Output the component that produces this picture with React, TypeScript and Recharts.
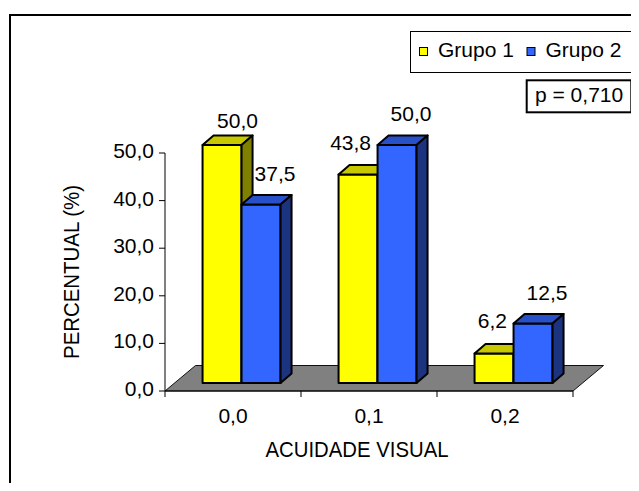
import React from 'react';
import { BarChart, Bar, XAxis, YAxis, ReferenceArea, Legend, LabelList } from 'recharts';

const categories = ['0,0', '0,1', '0,2'];
const grupo1 = [50.0, 43.8, 6.2];
const grupo2 = [37.5, 50.0, 12.5];
const yTicks = [0, 10, 20, 30, 40, 50];
const seriesNames = ['Grupo 1', 'Grupo 2'];
const pLabel = 'p = 0,710';
const yTitle = 'PERCENTUAL (%)';
const xTitle = 'ACUIDADE VISUAL';

const data = categories.map((cat, i) => ({ cat, g1: grupo1[i], g2: grupo2[i] }));

const FONT = '"Liberation Sans", Arial, sans-serif';
const W = 639;
const H = 491;
const PLOT_LEFT = 165;
const PLOT_RIGHT = 573;
const PLOT_TOP = 153;
const X_AXIS_H = 100;

// 3D look: bars sit a bit into the floor, and get a top/side face
const SHIFT_X = 9;
const SHIFT_Y = -8;
const DEPTH_X = 11;
const DEPTH_Y = -9.5;
const FLOOR_X = 30.5;
const FLOOR_Y = -25.5;

const YELLOW = { front: '#FFFF00', top: '#C8C800', side: '#808000' };
const BLUE = { front: '#3366FF', top: '#2850C8', side: '#1C3380' };

const fmt = (v: number) => v.toFixed(1).replace('.', ',');

function Bar3D(props: any) {
  const { x, y, width, height, colors } = props;
  if (width == null || height == null) return null;
  const x0 = x + SHIFT_X;
  const y0 = y + SHIFT_Y;
  const x1 = x0 + width;
  const y1 = y0 + height;
  return (
    <g stroke="#000" strokeWidth={2} strokeLinejoin="round">
      <rect x={x0} y={y0} width={width} height={height} fill={colors.front} />
      <polygon
        points={`${x0},${y0} ${x0 + DEPTH_X},${y0 + DEPTH_Y} ${x1 + DEPTH_X},${y0 + DEPTH_Y} ${x1},${y0}`}
        fill={colors.top}
      />
      <polygon
        points={`${x1},${y0} ${x1 + DEPTH_X},${y0 + DEPTH_Y} ${x1 + DEPTH_X},${y1 + DEPTH_Y} ${x1},${y1}`}
        fill={colors.side}
      />
    </g>
  );
}

function Floor(props: any) {
  const { x, y, width, height } = props;
  const b = y + height;
  const pts = `${x},${b} ${x + width},${b} ${x + width + FLOOR_X},${b + FLOOR_Y} ${x + FLOOR_X},${b + FLOOR_Y}`;
  return <polygon points={pts} fill="#808080" stroke="#111" strokeWidth={1} />;
}

function labelBox(props: any) {
  const vb = props.viewBox || {};
  return {
    x: props.x ?? vb.x,
    y: props.y ?? vb.y,
    width: props.width ?? vb.width,
    index: props.index,
  };
}

function LabelG1(props: any) {
  const { x, y, width, index } = labelBox(props);
  if (x == null || index == null) return null;
  const x0 = x + SHIFT_X;
  const y0 = y + SHIFT_Y;
  const hidden = grupo2[index] > grupo1[index];
  return (
    <text
      x={hidden ? x0 + width - 6.5 : x0 + width - 4}
      y={hidden ? y0 - 25 : y0 - 17}
      textAnchor={hidden ? 'end' : 'middle'}
      fontFamily={FONT}
      fontSize={21}
      fill="#000"
    >
      {fmt(grupo1[index])}
    </text>
  );
}

function LabelG2(props: any) {
  const { x, y, width, index } = labelBox(props);
  if (x == null || index == null) return null;
  const x0 = x + SHIFT_X;
  const y0 = y + SHIFT_Y;
  return (
    <text x={x0 + width / 2 + 14} y={y0 - 24} textAnchor="middle" fontFamily={FONT} fontSize={21} fill="#000">
      {fmt(grupo2[index])}
    </text>
  );
}

const BAND = (PLOT_RIGHT - PLOT_LEFT) / categories.length;

function XTick(props: any) {
  const { x, y, payload, index } = props;
  const left = x - BAND / 2;
  return (
    <g>
      <line x1={left} y1={y} x2={left} y2={y + 6} stroke="#000" />
      {index === categories.length - 1 && (
        <line x1={x + BAND / 2} y1={y} x2={x + BAND / 2} y2={y + 6} stroke="#000" />
      )}
      <text x={x} y={y + 32} textAnchor="middle" fontFamily={FONT} fontSize={21} fill="#000">
        {payload.value}
      </text>
    </g>
  );
}

function YTick(props: any) {
  const { x, y, payload } = props;
  return (
    <text x={x} y={y + 5} textAnchor="end" fontFamily={FONT} fontSize={21} fill="#000">
      {fmt(payload.value)}
    </text>
  );
}

function LegendBox() {
  const colors = [YELLOW.front, BLUE.front];
  const itemX = [0, 107.5];
  return (
    <svg width={224} height={84} style={{ display: 'block' }}>
      <rect x={0.5} y={0.5} width={222} height={41} fill="#fff" stroke="#000" strokeWidth={1} />
      {seriesNames.map((name, i) => (
        <g key={name}>
          <rect x={9.5 + itemX[i]} y={16.5} width={8} height={8} fill={colors[i]} stroke="#000" strokeWidth={1} />
          <text x={28 + itemX[i]} y={26.3} fontFamily={FONT} fontSize={21} fill="#000">
            {name}
          </text>
        </g>
      ))}
      <rect x={116.7} y={49.3} width={104.6} height={32} fill="#fff" stroke="#000" strokeWidth={2} />
      <text x={125} y={70.7} fontFamily={FONT} fontSize={21} fill="#000">
        {pLabel}
      </text>
    </svg>
  );
}

export default function App() {
  return (
    <div
      style={{
        position: 'relative',
        width: W,
        height: H,
        margin: -8,
        overflow: 'hidden',
        background: '#fff',
      }}
    >
      <div
        style={{
          position: 'absolute',
          left: 9,
          top: 14,
          width: 700,
          height: 600,
          border: '2px solid #000',
        }}
      />
      <div style={{ position: 'absolute', left: 0, top: 0 }}>
        <BarChart
          width={W}
          height={H}
          data={data}
          margin={{ top: PLOT_TOP, right: W - PLOT_RIGHT, bottom: 0, left: 0 }}
          barCategoryGap="21%"
          barGap={0}
        >
          <ReferenceArea y1={0} y2={50} shape={<Floor />} ifOverflow="visible" />
          <XAxis
            dataKey="cat"
            height={X_AXIS_H}
            tickLine={false}
            tickSize={0}
            tickMargin={0}
            axisLine={{ stroke: '#000', strokeWidth: 1 }}
            tick={<XTick />}
            interval={0}
            label={{
              content: (p: any) => {
                const vb = p.viewBox || { x: PLOT_LEFT, width: PLOT_RIGHT - PLOT_LEFT };
                return (
                  <text
                    x={vb.x + vb.width / 2 - 12}
                    y={456.7}
                    textAnchor="middle"
                    fontFamily={FONT}
                    fontSize={22}
                    textLength={183}
                    lengthAdjust="spacingAndGlyphs"
                    fill="#000"
                  >
                    {xTitle}
                  </text>
                );
              },
            }}
          />
          <YAxis
            width={PLOT_LEFT}
            domain={[0, 50]}
            ticks={yTicks}
            tickSize={6}
            tickMargin={5}
            tickLine={{ stroke: '#000' }}
            axisLine={{ stroke: '#000', strokeWidth: 1 }}
            tick={<YTick />}
            label={{
              content: (p: any) => {
                const vb = p.viewBox || { y: PLOT_TOP, height: 238 };
                const cx = 79.3;
                const cy = vb.y + vb.height / 2;
                return (
                  <text
                    x={cx}
                    y={cy}
                    transform={`rotate(-90 ${cx} ${cy})`}
                    textAnchor="middle"
                    fontFamily={FONT}
                    fontSize={22}
                    textLength={174}
                    lengthAdjust="spacingAndGlyphs"
                    fill="#000"
                  >
                    {yTitle}
                  </text>
                );
              },
            }}
          />
          <Legend
            layout="horizontal"
            verticalAlign="middle"
            align="center"
            wrapperStyle={{ left: 410, top: 31, width: 224, height: 84 }}
            content={() => <LegendBox />}
          />
          <Bar dataKey="g1" name={seriesNames[0]} fill={YELLOW.front} isAnimationActive={false} shape={(p: any) => <Bar3D {...p} colors={YELLOW} />}>
            <LabelList dataKey="g1" content={(p: any) => <LabelG1 {...p} />} />
          </Bar>
          <Bar dataKey="g2" name={seriesNames[1]} fill={BLUE.front} isAnimationActive={false} shape={(p: any) => <Bar3D {...p} colors={BLUE} />}>
            <LabelList dataKey="g2" content={(p: any) => <LabelG2 {...p} />} />
          </Bar>
        </BarChart>
      </div>
    </div>
  );
}
